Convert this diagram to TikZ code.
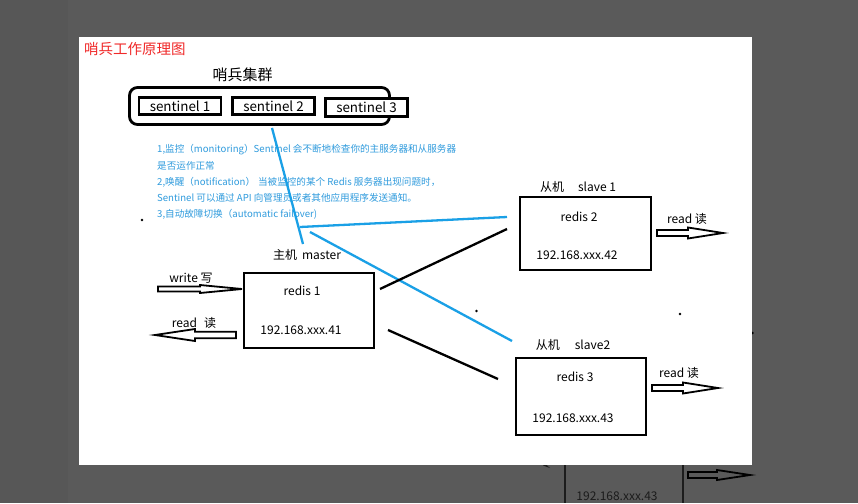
\documentclass[tikz,border=0pt]{standalone}
\usepackage{fontspec}
\setmainfont{Noto Sans CJK SC}
\definecolor{bgray}{HTML}{5A5A5A}
\definecolor{stripgray}{HTML}{575757}
\definecolor{titlered}{HTML}{F02A2A}
\definecolor{tipblue}{HTML}{2F9BDD}
\definecolor{lineblue}{HTML}{1AA0E6}
\definecolor{faded}{HTML}{1C1C1C}
\begin{document}
\begin{tikzpicture}[x=1pt,y=-1pt,
  box/.style={draw=black,line width=2.2pt,inner sep=0pt},
  sbox/.style={draw=black,fill=white,line width=2.6pt,inner sep=0pt,minimum width=82pt,minimum height=17pt,font=\fontsize{13.4}{13.4}\selectfont},
  lbl/.style={inner sep=0pt,font=\fontsize{12}{12}\selectfont},
  bluetxt/.style={inner sep=0pt,anchor=west,text=tipblue,font=\fontsize{9.6}{9.6}\selectfont},
  blueln/.style={draw=lineblue,line width=2.3pt},
  blackln/.style={draw=black,line width=2.3pt},
  harrowline/.style={draw=black,line width=1.8pt,line join=miter},
  pics/harr/.style n args={4}{code={
    \draw[harrowline] (0,-#3) -- ({#1-#2},-#3) -- ({#1-#2},-#4) -- (#1,0)
      -- ({#1-#2},#4) -- ({#1-#2},#3) -- (0,#3) -- cycle;}},
  speck/.style={circle,fill=black,inner sep=0pt,minimum size=2.6pt}
]
% background
\fill[bgray] (0,0) rectangle (858,503);
\useasboundingbox (0,0) rectangle (858,503);
\fill[stripgray] (0,0) rectangle (68,503);

% faded content behind the canvas
\draw[faded,line width=2pt] (565,455) -- (565,503);
\draw[faded,line width=2pt] (683,455) -- (683,503);
\node[lbl,text=faded] (fip) at (617,496) {192.168.xxx.43};
\node[lbl,text=faded] (fredis) at (617,460) {redis 3};
\pic[faded] at (688,475) {harr={62}{33}{3}{5}};
\fill[faded] (550,462) -- (543,465.5) -- (550,468) -- (547,465.5) -- cycle;
\node[speck] (d4) at (752.5,333) {};

% white canvas
\fill[white] (79,37) rectangle (752,465);

% title
\node[inner sep=0pt,anchor=west,text=titlered,font=\fontsize{14.5}{14.5}\selectfont] (title) at (84,49) {哨兵工作原理图};

% sentinel cluster
\node[inner sep=0pt,font=\fontsize{15}{15}\selectfont] (ctitle) at (242.5,75) {哨兵集群};
\node[draw=black,line width=2.8pt,rounded corners=8pt,minimum width=260pt,minimum height=37pt,inner sep=0pt] (cluster) at (259.5,106) {};
\node[sbox] (sen1) at (180,106) {sentinel 1};
\node[sbox] (sen2) at (273.5,106) {sentinel 2};
\node[sbox,minimum height=18pt] (sen3) at (366.5,107.5) {sentinel 3};

% description
\node[bluetxt] (t1) at (157,150) {1,监控（monitoring）Sentinel 会不断地检查你的主服务器和从服务器};
\node[bluetxt] (t2) at (157,166) {是否运作正常};
\node[bluetxt] (t3) at (157,182) {2,唤醒（notification）\hspace{3pt}当被监控的某个 Redis 服务器出现问题时，};
\node[bluetxt] (t4) at (157,198) {Sentinel 可以通过 API 向管理员或者其他应用程序发送通知。};
\node[bluetxt] (t5) at (157,214) {3,自动故障切换（automatic failover)};

% master
\node[box,minimum width=130pt,minimum height=75pt] (master) at (309,310.5) {};
\node[lbl] (mlab) at (307,255) {主机\hspace{5pt}master};
\node[lbl] (mr) at (302,291) {redis 1};
\node[lbl] (mip) at (301,330) {192.168.xxx.41};

% slave 1
\node[box,minimum width=131pt,minimum height=73pt] (slave1) at (585.5,233.5) {};
\node[lbl] (s1lab) at (578,187) {从机\hspace{14pt}slave 1};
\node[lbl] (s1r) at (579,217) {redis 2};
\node[lbl] (s1ip) at (577,255) {192.168.xxx.42};

% slave 2
\node[box,minimum width=130pt,minimum height=77pt] (slave2) at (581,396.5) {};
\node[lbl] (s2lab) at (573,345) {从机\hspace{15pt}slave2};
\node[lbl] (s2r) at (575,377) {redis 3};
\node[lbl] (s2ip) at (573,418) {192.168.xxx.43};

% read/write arrows
\coordinate (wst) at (158,289);
\coordinate (rst) at (236,335);
\coordinate (r1st) at (657,233);
\coordinate (r2st) at (652,388);
\pic at (wst) {harr={84}{42}{2.5}{4}};
\pic[rotate=180] at (rst) {harr={81}{40}{3.2}{6}};
\pic at (r1st) {harr={66}{35}{3}{5.5}};
\pic at (r2st) {harr={66}{35}{3}{5.5}};
\node[lbl] (wlab) at (191,278) {write 写};
\node[lbl] (rlab) at (194,323) {read\hspace{7pt}读};
\node[lbl] (r1lab) at (687,219) {read 读};
\node[lbl] (r2lab) at (679,373) {read 读};

% connectors
\coordinate (b1a) at (272,128);
\coordinate (b1b) at (303,244);
\coordinate (b2a) at (300,227);
\coordinate (b2b) at (507,217);
\coordinate (b3a) at (310,232);
\coordinate (b3b) at (512,341);
\coordinate (k1a) at (380,289);
\coordinate (k1b) at (507,229);
\coordinate (k2a) at (388,330);
\coordinate (k2b) at (498,379);
\draw[blueln] (b1a) -- (b1b);
\draw[blueln] (b2a) -- (b2b);
\draw[blueln] (b3a) -- (b3b);
\draw[blackln] (k1a) -- (k1b);
\draw[blackln] (k2a) -- (k2b);

% stray dots
\node[speck] (d1) at (142,220) {};
\node[speck] (d2) at (476.5,311) {};
\node[speck] (d3) at (680,314) {};
\end{tikzpicture}
\end{document}
